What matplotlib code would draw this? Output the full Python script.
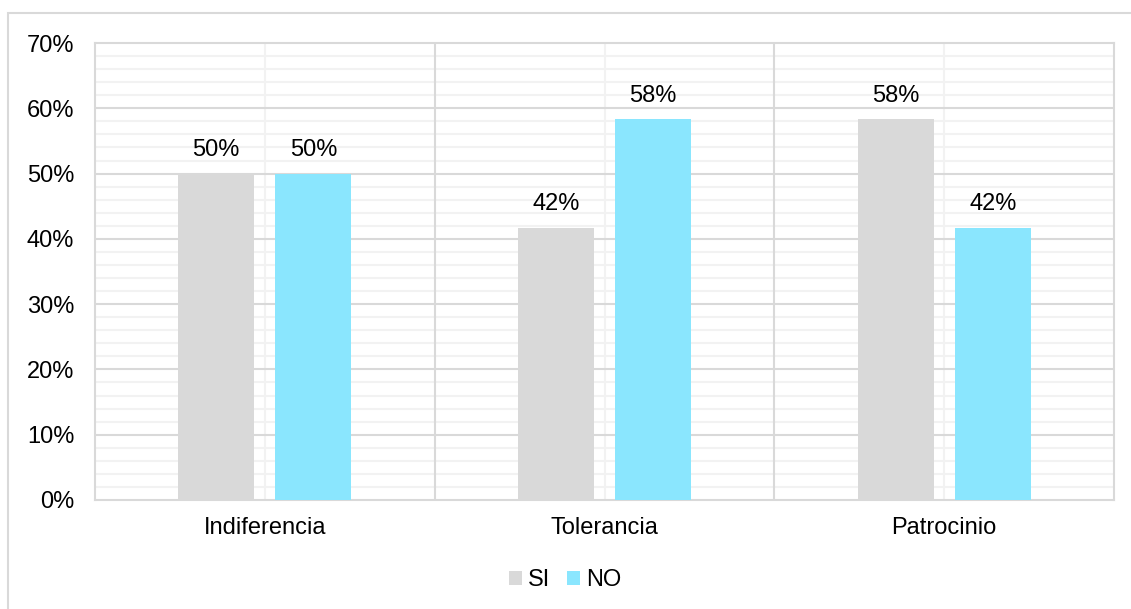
import numpy as np
import matplotlib
matplotlib.use("Agg")
import matplotlib.pyplot as plt
from matplotlib.patches import Rectangle
from matplotlib.ticker import MultipleLocator, FuncFormatter

plt.rcParams["font.family"] = ["Liberation Sans", "DejaVu Sans"]

categories = ["Indiferencia", "Tolerancia", "Patrocinio"]
si_vals = [0.50, 5 / 12, 7 / 12]
no_vals = [0.50, 7 / 12, 5 / 12]
series = [("SI", si_vals, "#d9d9d9"), ("NO", no_vals, "#8ae6fe")]

W, H = 1131, 609
FS = 17
fig = plt.figure(figsize=(W / 100, H / 100), dpi=100)
fig.patches.append(Rectangle((8 / W, -0.05), 1.1, 1 - 13 / H + 0.05, transform=fig.transFigure,
                             fill=False, edgecolor="#d9d9d9", lw=1.5))
ax = fig.add_axes([95 / W, 1 - 500 / H, (1114 - 95) / W, (500 - 43) / H])

x = np.arange(len(categories))
bw = 0.224
offs = [-0.143, 0.143]
for (name, vals, col), off in zip(series, offs):
    bars = ax.bar(x + off, vals, bw, color=col, label=name, zorder=3)
    for b, v in zip(bars, vals):
        ax.annotate(f"{v:.0%}", (b.get_x() + b.get_width() / 2, v), xytext=(0, 9),
                    textcoords="offset points", ha="center", va="bottom", fontsize=FS)

ax.set_xlim(-0.5, 2.5)
ax.set_ylim(0, 0.70)
ax.yaxis.set_major_locator(MultipleLocator(0.10))
ax.yaxis.set_major_formatter(FuncFormatter(lambda v, p: f"{v:.0%}"))
ax.set_xticks(x)
ax.set_xticklabels(categories)

# horizontal grid: light minor lines every 2%, darker major every 10%
for yv in np.arange(0.02, 0.70, 0.02):
    major = abs(yv * 10 - round(yv * 10)) < 1e-6
    ax.axhline(yv, color="#d9d9d9" if major else "#f2f2f2", lw=1.5, zorder=1 if major else 0)
for xv in [0.5, 1.5]:
    ax.axvline(xv, color="#d9d9d9", lw=1.5, zorder=1)
for xv in x:
    ax.axvline(xv, color="#f2f2f2", lw=1.5, zorder=0)

for s in ax.spines.values():
    s.set_color("#d9d9d9")
    s.set_linewidth(1.5)
ax.tick_params(which="both", length=0)
ax.tick_params(axis="y", pad=15, labelsize=FS)
ax.tick_params(axis="x", pad=12, labelsize=FS)

ax.legend(loc="center", bbox_to_anchor=(565 / W, 1 - 580 / H), bbox_transform=fig.transFigure,
          ncol=2, frameon=False, fontsize=FS, handlelength=0.55, handleheight=0.55,
          handletextpad=0.25, columnspacing=0.7)

fig.savefig("out.png", dpi=100)
